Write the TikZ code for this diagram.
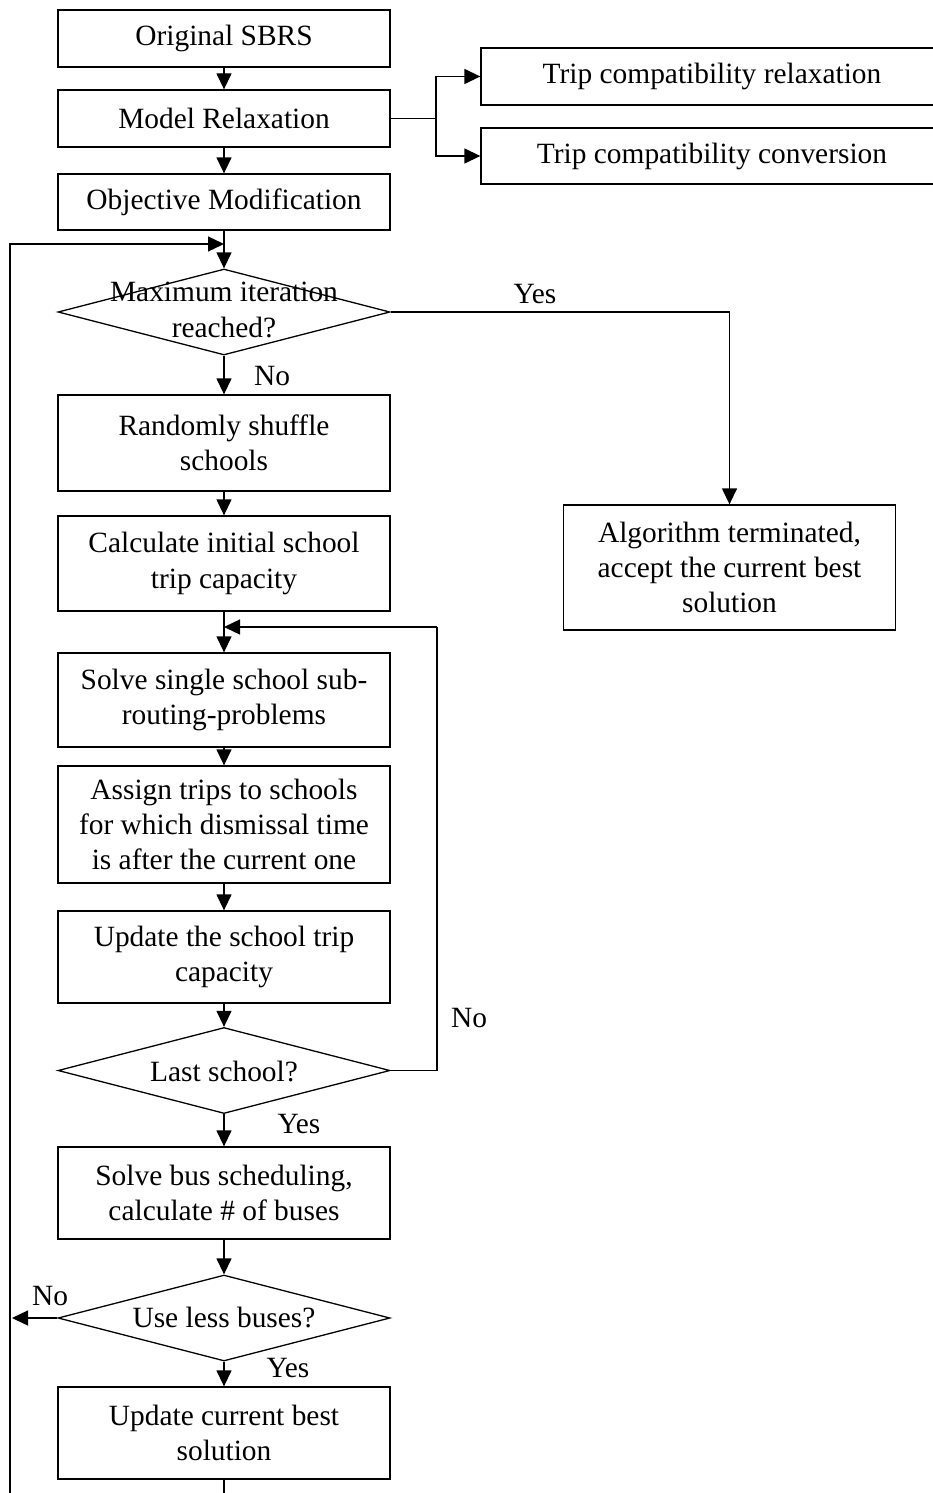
\documentclass[tikz,border=0pt]{standalone}
\usepackage{fontspec}
\setmainfont{Liberation Serif}
\usetikzlibrary{arrows.meta,shapes.geometric}
\begin{document}
\begin{tikzpicture}[x=0.5pt,y=-0.5pt,line width=0.65pt,
    font=\fontsize{14.7}{17.6}\selectfont,
    box/.style={draw,align=center,minimum width=166pt,inner sep=2pt},
    widebox/.style={draw,align=center,minimum width=231pt,inner sep=2pt},
    dec/.style={diamond,draw,minimum width=166pt,minimum height=43pt,inner sep=0pt},
    txt/.style={align=center,inner sep=0pt},
    lbl/.style={inner sep=0pt,anchor=base},
    arr/.style={-{Triangle[length=8pt,width=7.5pt]}}]
  \useasboundingbox (0,0) rectangle (932,1493);
  % set-up
  \node[box,minimum height=28.5pt] (orig) at (224,38.5) {Original SBRS};
  \node[box,minimum height=28.5pt] (relax) at (224,118.5) {Model Relaxation};
  \draw[arr] (orig) -- (relax);
  \node[widebox,minimum height=28.5pt] (tcr) at (712,76.5) {Trip compatibility relaxation};
  \node[widebox,minimum height=28pt] (tcc) at (712,156) {Trip compatibility conversion};
  \coordinate (fork) at (436,118.5);
  \draw (relax.east) -- (fork);
  \draw[arr] (fork) |- (tcr.west);
  \draw[arr] (fork) |- (tcc.west);
  \node[box,minimum height=28pt] (objmod) at (224,202) {Objective Modification};
  \draw[arr] (relax) -- (objmod);

  % outer loop
  \coordinate (join1) at (224,244);
  \node[dec] (maxit) at (224,312) {};
  \node[txt] (maxitT) at (224,310) {Maximum iteration\\reached?};
  \draw[arr] (objmod) -- (maxit);
  \node[box,minimum height=62.5pt] (alg) at (729.5,567.5) {Algorithm terminated,\\accept the current best\\solution};
  \draw[arr] (maxit.east) -| (alg.north);
  \node[lbl] (yes1) at (535,303) {Yes};
  \node[box,minimum height=48pt] (shuffle) at (224,443) {Randomly shuffle\\schools};
  \draw[arr] (maxit) -- (shuffle);
  \node[lbl] (no1) at (272,385) {No};
  \node[box,minimum height=47.5pt] (initcap) at (224,563.5) {Calculate initial school\\trip capacity};
  \draw[arr] (shuffle) -- (initcap);

  % inner loop
  \coordinate (join2) at (224,627);
  \coordinate (ret2) at (437,627);
  \node[box,minimum height=47pt] (solve) at (224,700) {Solve single school sub-\\routing-problems};
  \draw[arr] (initcap) -- (solve);
  \node[box,minimum height=58.5pt] (assign) at (224,824.5) {Assign trips to schools\\for which dismissal time\\is after the current one};
  \draw[arr] (solve) -- (assign);
  \node[box,minimum height=46pt] (update) at (224,957) {Update the school trip\\capacity};
  \draw[arr] (assign) -- (update);
  \node[dec] (last) at (224,1070.5) {};
  \node[txt] (lastT) at (224,1071) {Last school?};
  \draw[arr] (update) -- (last);
  \draw (last.east) -| (ret2);
  \draw[arr] (ret2) -- (join2);
  \node[lbl] (no2) at (469,1027) {No};

  % bus scheduling
  \node[box,minimum height=46pt] (busch) at (224,1193) {Solve bus scheduling,\\calculate \# of buses};
  \draw[arr] (last) -- (busch);
  \node[lbl] (yes2) at (299,1133) {Yes};
  \node[dec] (less) at (224,1318) {};
  \node[txt] (lessT) at (224,1317) {Use less buses?};
  \draw[arr] (busch) -- (less);
  \coordinate (noend) at (12,1318);
  \draw[arr] (less.west) -- (noend);
  \node[lbl] (no3) at (50,1305) {No};
  \node[box,minimum height=46pt] (best) at (224,1433) {Update current best\\solution};
  \draw[arr] (less) -- (best);
  \node[lbl] (yes3) at (288,1377) {Yes};
  \coordinate (bot) at (224,1493);
  \draw (best) -- (bot);
  \coordinate (ret1a) at (10,1493);
  \coordinate (ret1b) at (10,244);
  \draw[arr] (ret1a) -- (ret1b) -- (join1);
\end{tikzpicture}
\end{document}
